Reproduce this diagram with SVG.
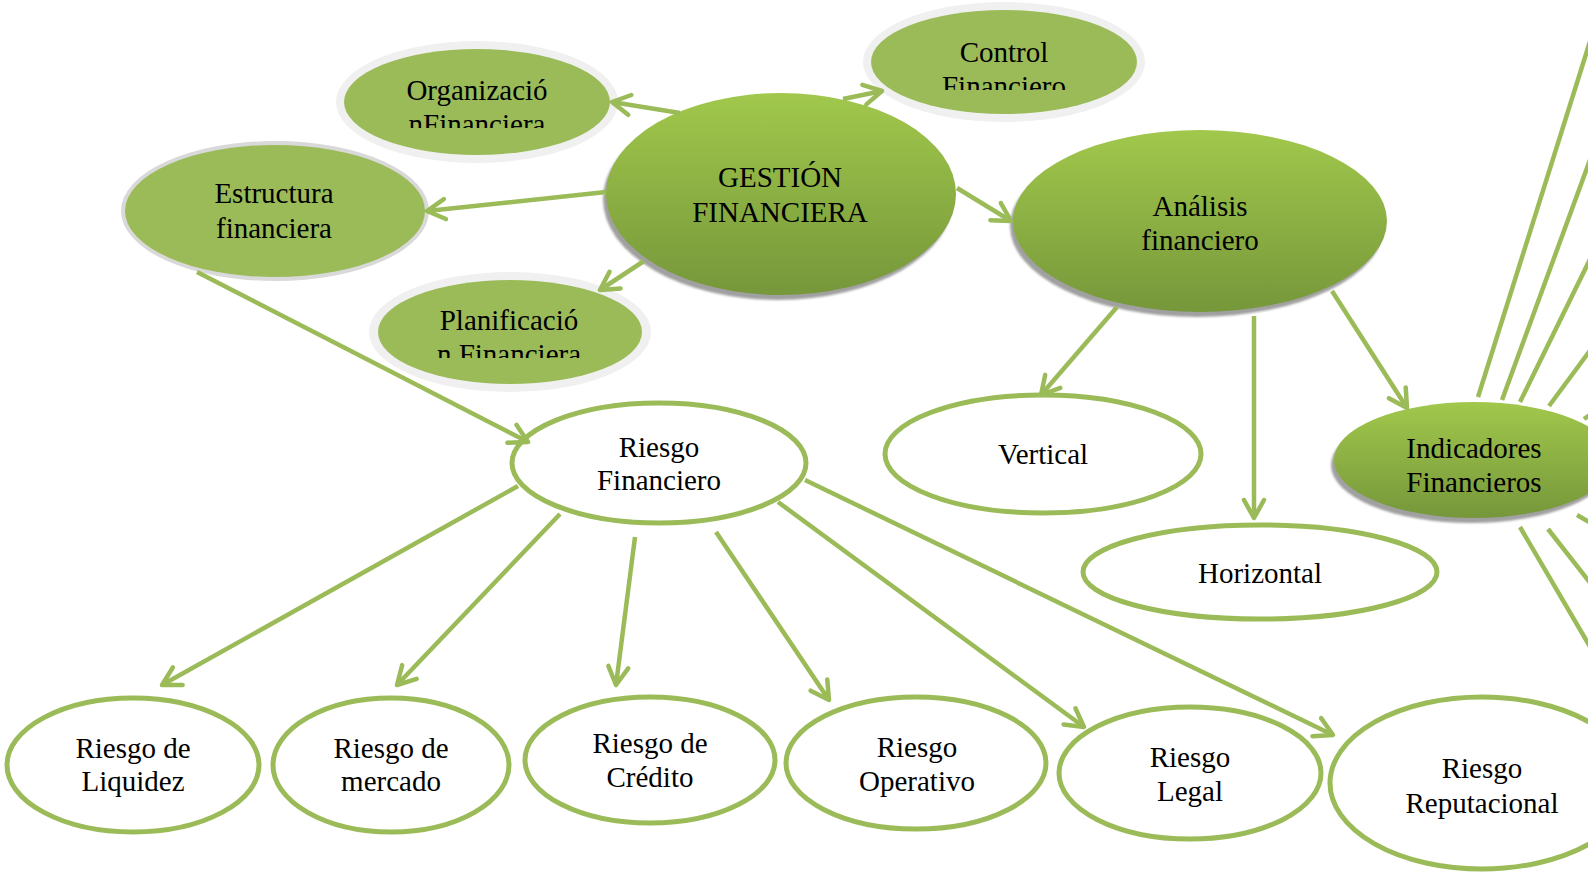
<svg xmlns="http://www.w3.org/2000/svg" width="1588" height="874" viewBox="0 0 1588 874">
<style>
  .t { font-family: "Liberation Serif", "Times New Roman", serif; font-size: 29px; fill: #000; text-anchor: middle; }
  .flat { fill: #9bbb59; }
  .haloL { fill: #f0f0f0; }
  .haloD { fill: #d9d9d9; }
  .grad { fill: url(#g); }
  .shadow { fill: #a0a0a0; filter: url(#blur); }
  .wn { fill: #ffffff; stroke: #9bbb59; stroke-width: 5; }
  .c { fill: none; stroke: #9bbb59; stroke-width: 4.5; }
  .ca { fill: none; stroke: #9bbb59; stroke-width: 4.5; marker-end: url(#ah); }
</style>
<defs>
  <linearGradient id="g" x1="0" y1="0" x2="0" y2="1">
    <stop offset="0" stop-color="#a1c84c"/>
    <stop offset="1" stop-color="#76973a"/>
  </linearGradient>
  <filter id="blur" x="-10%" y="-10%" width="120%" height="120%">
    <feGaussianBlur stdDeviation="1.2"/>
  </filter>
  <marker id="ah" markerUnits="userSpaceOnUse" markerWidth="40" markerHeight="40" refX="0" refY="0" orient="auto" overflow="visible">
    <path d="M-18,-10 L0,0 L-18,10" fill="none" stroke="#9bbb59" stroke-width="4.5" stroke-linecap="round" stroke-linejoin="round"/>
  </marker>
  <clipPath id="clipOrg"><rect x="300" y="0" width="360" height="128"/></clipPath>
  <clipPath id="clipCtl"><rect x="840" y="0" width="340" height="90"/></clipPath>
  <clipPath id="clipPlan"><rect x="340" y="260" width="340" height="98"/></clipPath>
</defs>

<rect width="1588" height="874" fill="#ffffff"/>

<g id="nodes">
  <g id="gestion">
    <ellipse class="shadow" cx="778" cy="199" rx="175" ry="101"/>
    <ellipse class="grad" cx="781" cy="194" rx="175" ry="101"/>
    <text class="t" x="780" y="187">GESTIÓN</text>
    <text class="t" x="780" y="222">FINANCIERA</text>
  </g>
  <g id="organizacion">
    <ellipse class="haloL" cx="477" cy="102" rx="141" ry="61"/>
    <ellipse class="flat" cx="477" cy="102" rx="133" ry="53"/>
    <g clip-path="url(#clipOrg)">
      <text class="t" x="477" y="100">Organizació</text>
      <text class="t" x="477" y="134">nFinanciera</text>
    </g>
  </g>
  <g id="control">
    <ellipse class="haloL" cx="1004" cy="62" rx="141" ry="60"/>
    <ellipse class="flat" cx="1004" cy="62" rx="133" ry="52"/>
    <g clip-path="url(#clipCtl)">
      <text class="t" x="1004" y="62">Control</text>
      <text class="t" x="1004" y="96">Financiero</text>
    </g>
  </g>
  <g id="estructura">
    <ellipse class="haloD" cx="275" cy="211" rx="154" ry="70"/>
    <ellipse class="flat" cx="275" cy="211" rx="150" ry="66"/>
    <text class="t" x="274" y="203">Estructura</text>
    <text class="t" x="274" y="238">financiera</text>
  </g>
  <g id="planificacion">
    <ellipse class="haloL" cx="510" cy="332" rx="141" ry="60"/>
    <ellipse class="flat" cx="510" cy="332" rx="132" ry="52"/>
    <g clip-path="url(#clipPlan)">
      <text class="t" x="509" y="330">Planificació</text>
      <text class="t" x="509" y="364">n Financiera</text>
    </g>
  </g>
  <g id="analisis">
    <ellipse class="shadow" cx="1197" cy="226" rx="187" ry="91"/>
    <ellipse class="grad" cx="1200" cy="221" rx="187" ry="91"/>
    <text class="t" x="1200" y="216">Análisis</text>
    <text class="t" x="1200" y="250">financiero</text>
  </g>
  <g id="indicadores">
    <ellipse class="shadow" cx="1471" cy="465" rx="140" ry="58"/>
    <ellipse class="grad" cx="1474" cy="460" rx="140" ry="58"/>
    <text class="t" x="1474" y="458">Indicadores</text>
    <text class="t" x="1474" y="492">Financieros</text>
  </g>
  <g id="riesgo-financiero">
    <ellipse class="wn" cx="659" cy="463" rx="147" ry="60"/>
    <text class="t" x="659" y="457">Riesgo</text>
    <text class="t" x="659" y="490">Financiero</text>
  </g>
  <g id="vertical">
    <ellipse class="wn" cx="1043" cy="454" rx="158" ry="59"/>
    <text class="t" x="1043" y="464">Vertical</text>
  </g>
  <g id="horizontal">
    <ellipse class="wn" cx="1260" cy="572" rx="177" ry="47"/>
    <text class="t" x="1260" y="583">Horizontal</text>
  </g>
  <g id="liquidez">
    <ellipse class="wn" cx="133" cy="765" rx="126" ry="67"/>
    <text class="t" x="133" y="758">Riesgo de</text>
    <text class="t" x="133" y="791">Liquidez</text>
  </g>
  <g id="mercado">
    <ellipse class="wn" cx="391" cy="765" rx="118" ry="67"/>
    <text class="t" x="391" y="758">Riesgo de</text>
    <text class="t" x="391" y="791">mercado</text>
  </g>
  <g id="credito">
    <ellipse class="wn" cx="650" cy="760" rx="125" ry="63"/>
    <text class="t" x="650" y="753">Riesgo de</text>
    <text class="t" x="650" y="787">Crédito</text>
  </g>
  <g id="operativo">
    <ellipse class="wn" cx="916" cy="763" rx="130" ry="66"/>
    <text class="t" x="917" y="757">Riesgo</text>
    <text class="t" x="917" y="791">Operativo</text>
  </g>
  <g id="legal">
    <ellipse class="wn" cx="1190" cy="773" rx="131" ry="66"/>
    <text class="t" x="1190" y="767">Riesgo</text>
    <text class="t" x="1190" y="801">Legal</text>
  </g>
  <g id="reputacional">
    <ellipse class="wn" cx="1482" cy="783" rx="152" ry="86"/>
    <text class="t" x="1482" y="778">Riesgo</text>
    <text class="t" x="1482" y="813">Reputacional</text>
  </g>
</g>

<g id="connectors">
  <line class="ca" x1="680" y1="113" x2="612" y2="102"/>
  <line class="ca" x1="843" y1="99" x2="882" y2="91"/>
  <line class="ca" x1="606" y1="192" x2="427" y2="211"/>
  <line class="ca" x1="644" y1="261" x2="600" y2="290"/>
  <line class="ca" x1="957" y1="188" x2="1011" y2="221"/>
  <line class="ca" x1="197" y1="272" x2="528" y2="442"/>
  <line class="ca" x1="1117" y1="307" x2="1041" y2="395"/>
  <line class="ca" x1="1254" y1="316" x2="1254" y2="518"/>
  <line class="ca" x1="1332" y1="291" x2="1407" y2="408"/>
  <line class="ca" x1="518" y1="486" x2="162" y2="685"/>
  <line class="ca" x1="560" y1="514" x2="397" y2="685"/>
  <line class="ca" x1="635" y1="537" x2="616" y2="685"/>
  <line class="ca" x1="716" y1="532" x2="829" y2="700"/>
  <line class="ca" x1="778" y1="502" x2="1084" y2="727"/>
  <line class="ca" x1="805" y1="480" x2="1333" y2="735"/>
  <line class="c" x1="1478" y1="397" x2="1603" y2="0"/>
  <line class="c" x1="1502" y1="400" x2="1620" y2="78"/>
  <line class="c" x1="1520" y1="402" x2="1620" y2="198"/>
  <line class="c" x1="1549" y1="406" x2="1620" y2="310"/>
  <line class="c" x1="1584" y1="419" x2="1620" y2="394"/>
  <line class="c" x1="1520" y1="527" x2="1620" y2="698"/>
  <line class="c" x1="1548" y1="529" x2="1620" y2="621"/>
  <line class="c" x1="1577" y1="515" x2="1620" y2="540"/>
</g>
</svg>
